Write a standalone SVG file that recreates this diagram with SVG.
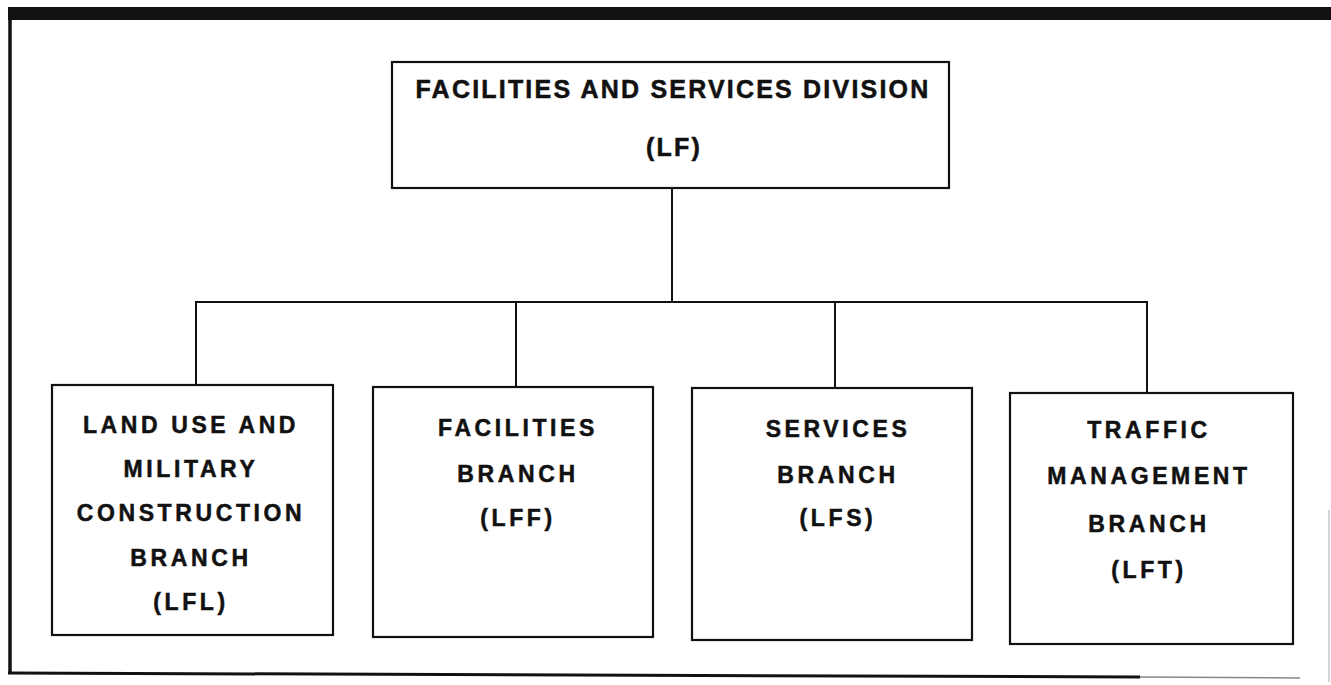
<svg xmlns="http://www.w3.org/2000/svg" width="1331" height="685" viewBox="0 0 1331 685">
<style>
.box{fill:#fff;stroke:#111;stroke-width:2.2}
.conn{stroke:#111;stroke-width:2;fill:none}
.t{font-family:"Liberation Sans",Arial,sans-serif;font-weight:bold;fill:#111;stroke:#111;stroke-width:0.5;text-anchor:middle}
.title{font-size:25px;letter-spacing:2.2px}
.lbl{font-size:23px;letter-spacing:3.6px}
</style>
<rect width="1331" height="685" fill="#fff"/>
<g id="frame">
<rect x="8" y="7" width="1323" height="13" fill="#111"/>
<line x1="10" y1="7" x2="10" y2="674" stroke="#111" stroke-width="3.5"/>
<line x1="8" y1="673" x2="1140" y2="677" stroke="#111" stroke-width="3"/>
<line x1="1140" y1="677" x2="1300" y2="678" stroke="#888" stroke-width="1.5"/>
<line x1="1329" y1="510" x2="1329" y2="682" stroke="#bbb" stroke-width="1.2"/>
</g>
<g id="connectors">
<line class="conn" x1="672" y1="188" x2="672" y2="302"/>
<line class="conn" x1="195" y1="302" x2="1148" y2="302"/>
<line class="conn" x1="196" y1="302" x2="196" y2="385"/>
<line class="conn" x1="516" y1="302" x2="516" y2="387"/>
<line class="conn" x1="835" y1="302" x2="835" y2="388"/>
<line class="conn" x1="1147" y1="302" x2="1147" y2="393"/>
</g>
<g id="node-lf">
<rect class="box" x="392" y="62" width="557" height="126"/>
<text class="t title" x="673" y="98">FACILITIES AND SERVICES DIVISION</text>
<text class="t title" x="674" y="156">(LF)</text>
</g>
<g id="node-lfl">
<rect class="box" x="52" y="385" width="281" height="250"/>
<text class="t lbl" x="191" y="433">LAND USE AND</text>
<text class="t lbl" x="191" y="477">MILITARY</text>
<text class="t lbl" x="191" y="521">CONSTRUCTION</text>
<text class="t lbl" x="191" y="566">BRANCH</text>
<text class="t lbl" x="191" y="610">(LFL)</text>
</g>
<g id="node-lff">
<rect class="box" x="373" y="387" width="280" height="250"/>
<text class="t lbl" x="518" y="436">FACILITIES</text>
<text class="t lbl" x="518" y="482">BRANCH</text>
<text class="t lbl" x="518" y="526">(LFF)</text>
</g>
<g id="node-lfs">
<rect class="box" x="692" y="388" width="280" height="252"/>
<text class="t lbl" x="838" y="437">SERVICES</text>
<text class="t lbl" x="838" y="483">BRANCH</text>
<text class="t lbl" x="838" y="526">(LFS)</text>
</g>
<g id="node-lft">
<rect class="box" x="1010" y="393" width="283" height="251"/>
<text class="t lbl" x="1149" y="438">TRAFFIC</text>
<text class="t lbl" x="1149" y="484">MANAGEMENT</text>
<text class="t lbl" x="1149" y="532">BRANCH</text>
<text class="t lbl" x="1149" y="578">(LFT)</text>
</g>
</svg>
